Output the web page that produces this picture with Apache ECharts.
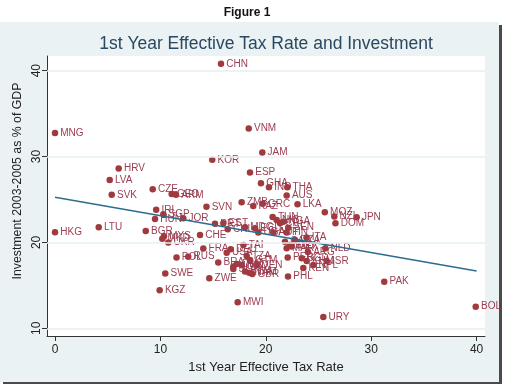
<!DOCTYPE html>
<html><head><meta charset="utf-8">
<script src="https://cdn.jsdelivr.net/npm/echarts@6/dist/echarts.min.js"></script>
<style>html,body{margin:0;padding:0;background:#fff}#c{width:507px;height:387px}</style>
</head><body><div id="c"></div>
<script>
const countries = ["CHN","MNG","VNM","JAM","KOR","HRV","LVA","SVK","CZE","GEO","ARM","ESP","GHA","IND","THA","AUS","LKA","MOZ","NZL","JPN","DOM","HKG","LTU","BGR","IRL","SGP","HUN","JOR","SVN","CHE","MYS","MKD","UKR","FRA","POL","RUS","SWE","KGZ","ZWE","MWI","BRA","URY","PAK","BOL","PHL","KEN","ISR","NLD","ITA","SEN","PER","ARG","MEX","ECU","TUN","TAI","VEN","GBR","ZMB","KAZ","GRC","PRT","EST","CHL","MDG","UGA","AUT","FIN","NIC","CRI","NGA","CAN","EGY","DZA","MAR","BGD","KHM","NPL","USA","DEU","NOR","DNK","TZA","GTM","BWA","NAM","HND","SLV"];
const taxRate = [15.75,0.00,18.38,19.67,14.92,6.04,5.19,5.38,9.27,11.07,11.48,18.50,19.54,20.30,22.04,21.98,23.01,25.60,26.50,28.62,26.61,0.00,4.15,8.61,9.60,10.28,9.49,12.17,14.37,13.76,10.34,10.18,10.75,14.07,11.53,12.64,10.46,9.93,14.64,17.33,15.49,25.46,31.24,39.92,22.11,23.56,25.78,25.65,23.86,22.13,22.08,24.00,22.46,18.98,20.65,17.88,19.14,18.72,17.71,18.81,19.71,15.18,15.97,16.39,18.03,19.29,20.71,21.98,21.03,21.35,21.66,21.82,22.30,22.77,21.98,23.41,23.88,24.51,16.29,16.67,16.92,17.24,18.19,18.50,18.03,18.43,17.71,16.92];
const investment = [40.80,32.73,33.26,30.47,29.62,28.60,27.28,25.54,26.20,25.65,25.54,28.13,26.90,26.43,26.43,25.45,24.43,23.52,23.03,22.94,22.24,21.19,21.77,21.34,23.79,23.29,22.74,22.82,24.14,20.87,20.72,20.44,19.98,19.30,18.25,18.34,16.39,14.44,15.83,13.03,17.67,11.32,15.43,12.52,16.04,17.03,17.84,19.32,20.58,21.72,18.25,18.89,19.51,21.66,22.97,19.71,17.38,16.33,24.69,24.25,24.49,22.16,22.24,21.54,21.77,21.14,21.14,21.14,22.62,22.24,22.42,20.09,19.71,20.29,19.32,18.16,17.84,17.38,18.81,19.21,17.18,17.49,18.43,17.96,16.60,16.48,17.38,16.91];
const fitX = [0, 40];
const fitY = [25.27, 16.68];
const xTicks = [0, 10, 20, 30, 40];
const yTicks = [10, 20, 30, 40];

const chart = echarts.init(document.getElementById('c'), null, {renderer: 'canvas'});
const font = 'Liberation Sans, Arial, sans-serif';
const points = countries.map((c, i) => ({name: c, value: [taxRate[i], investment[i]]}));
const fit = fitX.map((x, i) => [x, fitY[i]]);

chart.setOption({
  backgroundColor: '#fff',
  animation: false,
  graphic: [
    {type: 'rect', z: -20, shape: {x: 3, y: 25, width: 499, height: 359}, style: {fill: '#4a4a4a'}},
    {type: 'rect', z: -19, shape: {x: 0, y: 22, width: 499, height: 360}, style: {fill: '#eaf2f3'}},
    {type: 'text', z: 5, x: 247, y: 13, style: {text: 'Figure 1', font: 'bold 12px ' + font, fill: '#111', textAlign: 'center', textVerticalAlign: 'middle'}},
    {type: 'text', z: 5, x: 18, y: 181, rotation: Math.PI / 2, style: {text: 'Investment 2003-2005 as % of GDP', font: '12.3px ' + font, fill: '#222', textAlign: 'center', textVerticalAlign: 'middle'}}
  ],
  title: {
    text: '1st Year Effective Tax Rate and Investment',
    left: 266, top: 35, padding: 0, textAlign: 'center',
    textStyle: {fontSize: 17.5, fontWeight: 'normal', color: '#2a4862', fontFamily: font}
  },
  grid: {left: 47, top: 56, width: 438, height: 280, show: true, backgroundColor: '#fff', borderWidth: 0},
  xAxis: {
    type: 'value', min: -0.76, max: 40.8,
    axisLine: {show: true, onZero: false, lineStyle: {color: '#333', width: 1}},
    axisTick: {show: true, length: 5, customValues: xTicks, lineStyle: {color: '#333'}},
    axisLabel: {customValues: xTicks, fontSize: 12, color: '#222', margin: 8, fontFamily: font},
    splitLine: {show: false},
    name: '1st Year Effective Tax Rate', nameLocation: 'middle', nameGap: 21,
    nameTextStyle: {fontSize: 13, color: '#222', fontFamily: font}
  },
  yAxis: {
    type: 'value', min: 9.1, max: 41.71,
    axisLine: {show: true, onZero: false, lineStyle: {color: '#333', width: 1}},
    axisTick: {show: true, length: 5, customValues: yTicks, lineStyle: {color: '#333'}},
    axisLabel: {customValues: yTicks, rotate: 90, fontSize: 12, color: '#222', margin: 4, fontFamily: font},
    splitLine: {show: false}
  },
  series: [
    {
      type: 'line', data: [], z: 1, silent: true,
      markLine: {silent: true, symbol: 'none', label: {show: false},
        lineStyle: {color: '#e6eff1', width: 1.5, type: 'solid'},
        data: yTicks.map(v => ({yAxis: v}))}
    },
    {
      type: 'scatter', data: points, symbolSize: 6.5, z: 2,
      itemStyle: {color: '#a03a3c', opacity: 1},
      label: {show: true, formatter: '{b}', position: 'right', distance: 2, fontSize: 10, color: '#9b3d52', fontFamily: font}
    },
    {
      type: 'line', data: fit, symbol: 'none', z: 3,
      lineStyle: {color: '#2b6c8f', width: 1.5}
    }
  ]
});
</script>
</body></html>
